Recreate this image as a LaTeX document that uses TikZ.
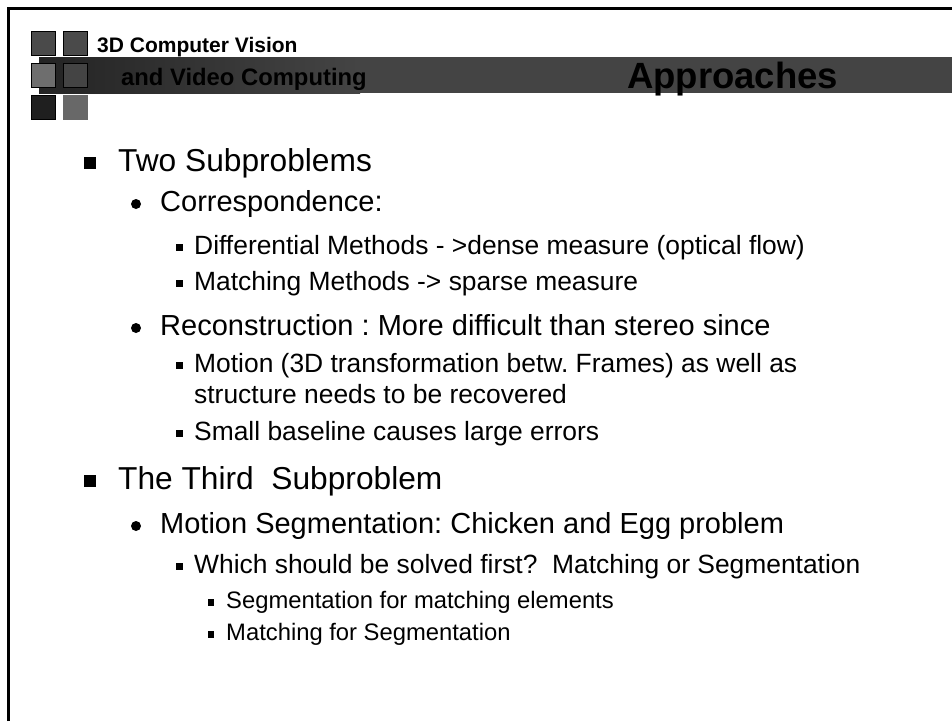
\documentclass[tikz,border=0pt]{standalone}
\usepackage{fontspec}
\setmainfont{Liberation Sans}
\usetikzlibrary{positioning}
\definecolor{slideBar}{HTML}{444444}
\definecolor{slideBarDark}{HTML}{242424}
\definecolor{boxMid}{HTML}{4A4A4A}
\definecolor{boxLight}{HTML}{6E6E6E}
\definecolor{boxPale}{HTML}{686868}
\definecolor{boxBlack}{HTML}{1F1F1F}

\begin{document}
\frenchspacing
\begin{tikzpicture}[x=1pt, y=-1pt,
    tile/.style={draw=black, line width=1pt, minimum size=24pt, inner sep=0pt, anchor=north west},
    lvlA/.style={anchor=base west, inner sep=0pt, font=\fontsize{31.7}{36}\selectfont},
    lvlB/.style={anchor=base west, inner sep=0pt, font=\fontsize{29}{33}\selectfont},
    lvlC/.style={anchor=base west, inner sep=0pt, font=\fontsize{26.4}{30}\selectfont},
    lvlD/.style={anchor=base west, inner sep=0pt, font=\fontsize{23.8}{28}\selectfont},
    sqbul/.style={fill=black, inner sep=0pt, minimum size=12pt},
    dotbul/.style={circle, fill=black, inner sep=0pt, minimum size=10pt},
    smbul/.style={fill=black, inner sep=0pt, minimum size=7pt},
    tinybul/.style={fill=black, inner sep=0pt, minimum size=6.5pt}]
  \useasboundingbox (0,0) rectangle (952,721);
  \fill[white] (0,0) rectangle (952,721);

  % frame
  \draw[line width=2.7pt] (8.5,721) -- (8.5,8.5) -- (952,8.5);

  % title bar
  \shade[left color=slideBarDark, right color=slideBar] (39,57) rectangle (360,93.3);
  \fill[slideBar] (360,57) rectangle (952,93);

  % logo tiles
  \node[tile, fill=boxMid]   (t11) at (31,31) {};
  \node[tile, fill=boxMid]   (t12) at (62.5,31) {};
  \node[tile, fill=boxLight] (t21) at (31,63) {};
  \node[tile, fill=slideBar] (t22) at (62.5,63) {};
  \node[tile, fill=boxBlack] (t31) at (31,94.5) {};
  \node[tile, fill=boxPale, draw=none, minimum size=24.5pt] (t32) at (62.5,94.5) {};

  \node[anchor=base west, inner sep=0pt, font=\fontsize{21}{24}\selectfont\bfseries] (course) at (97,52) {3D Computer Vision};
  \node[anchor=base west, inner sep=0pt, font=\fontsize{23.8}{28}\selectfont\bfseries] (course2) at (121,85) {and Video Computing};
  \node[anchor=base west, inner sep=0pt, font=\fontsize{36.5}{42}\selectfont\bfseries] (title) at (627,88) {Approaches};

  % body
  \node[sqbul]  (b1)  at (89.5,162.5) {};
  \node[lvlA]   (i1)  at (118,171) {Two Subproblems};
  \node[dotbul] (b2)  at (136,204) {};
  \node[lvlB]   (i2)  at (160,211) {Correspondence:};
  \node[smbul]  (b3)  at (179,247.5) {};
  \node[lvlC]   (i3)  at (194,254) {Differential Methods - >dense measure (optical flow)};
  \node[smbul]  (b4)  at (179,283.5) {};
  \node[lvlC]   (i4)  at (194,290) {Matching Methods -> sparse measure};
  \node[dotbul] (b5)  at (136,328) {};
  \node[lvlB]   (i5)  at (160,335) {Reconstruction : More difficult than stereo since};
  \node[smbul]  (b6)  at (179,365.5) {};
  \node[lvlC]   (i6)  at (194,372) {Motion (3D transformation betw. Frames) as well as};
  \node[lvlC]   (i6b) at (194,403) {structure needs to be recovered};
  \node[smbul]  (b7)  at (179,433.5) {};
  \node[lvlC]   (i7)  at (194,440) {Small baseline causes large errors};

  \node[sqbul]  (b8)  at (89.5,480.5) {};
  \node[lvlA]   (i8)  at (118,489) {The Third\ \ Subproblem};
  \node[dotbul] (b9)  at (136,526) {};
  \node[lvlB]   (i9)  at (160,533) {Motion Segmentation: Chicken and Egg problem};
  \node[smbul]  (b10) at (179,566.5) {};
  \node[lvlC]   (i10) at (194,573) {Which should be solved first?\ \ Matching or Segmentation};
  \node[tinybul] (b11) at (211,602.5) {};
  \node[lvlD]   (i11) at (226,608) {Segmentation for matching elements};
  \node[tinybul] (b12) at (211,634.5) {};
  \node[lvlD]   (i12) at (226,640) {Matching for Segmentation};
\end{tikzpicture}
\end{document}
